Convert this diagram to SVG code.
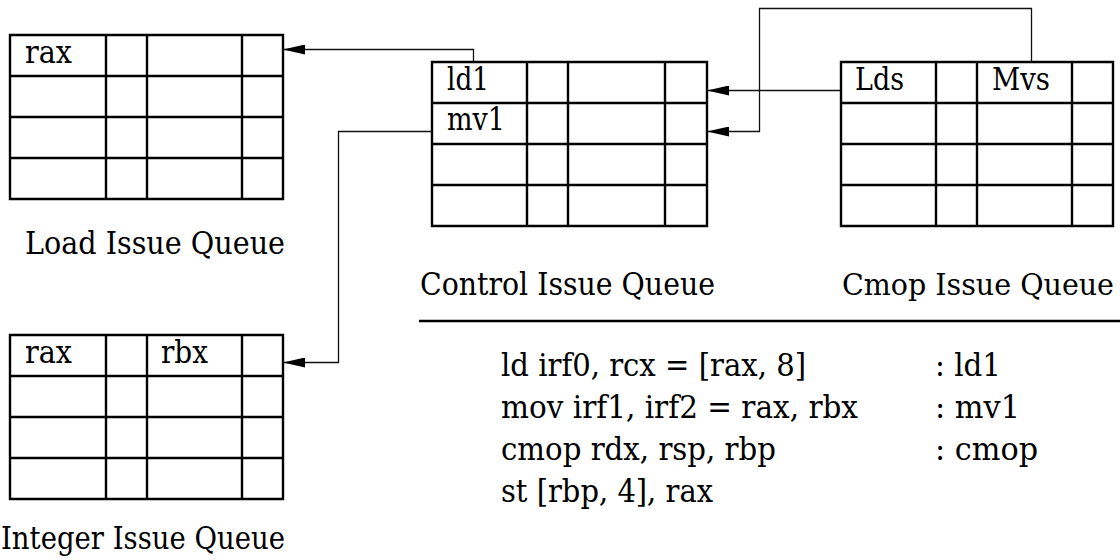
<svg xmlns="http://www.w3.org/2000/svg" width="1120" height="560" viewBox="0 0 1120 560">
<style>
  .grid { fill: none; stroke: #000; stroke-width: 2.4; }
  .conn { fill: none; stroke: #111; stroke-width: 1.3; }
  .t { font-family: 'DejaVu Serif', 'Liberation Serif', serif; font-size: 32px; fill: #000; }
</style>
<defs>
  <marker id="arr" markerUnits="userSpaceOnUse" markerWidth="22" markerHeight="10" viewBox="0 0 22 10" refX="22" refY="5" orient="auto">
    <path d="M0,0 L22,5 L0,10 z" fill="#000"/>
  </marker>
</defs>
<rect width="1120" height="560" fill="#fff"/>

<g id="load-queue">
  <path class="grid" d="M10,35 H283 V199 H10 Z M10,76 H283 M10,117 H283 M10,158 H283 M106,35 V199 M147,35 V199 M242,35 V199"/>
  <text class="t" x="25" y="63" textLength="47" lengthAdjust="spacingAndGlyphs">rax</text>
  <text class="t" x="25" y="254" textLength="260" lengthAdjust="spacingAndGlyphs">Load Issue Queue</text>
</g>

<g id="integer-queue">
  <path class="grid" d="M10,335 H283 V499 H10 Z M10,376 H283 M10,417 H283 M10,458 H283 M106,335 V499 M147,335 V499 M242,335 V499"/>
  <text class="t" x="25" y="363" textLength="47" lengthAdjust="spacingAndGlyphs">rax</text>
  <text class="t" x="161" y="363" textLength="47" lengthAdjust="spacingAndGlyphs">rbx</text>
  <text class="t" x="1" y="549" textLength="284" lengthAdjust="spacingAndGlyphs">Integer Issue Queue</text>
</g>

<g id="control-queue">
  <path class="grid" d="M432,62 H707 V226 H432 Z M432,103 H707 M432,144 H707 M432,185 H707 M527,62 V226 M568,62 V226 M665,62 V226"/>
  <text class="t" x="447" y="90" textLength="42" lengthAdjust="spacingAndGlyphs">ld1</text>
  <text class="t" x="447" y="130" textLength="58" lengthAdjust="spacingAndGlyphs">mv1</text>
  <text class="t" x="420" y="295" textLength="295" lengthAdjust="spacingAndGlyphs">Control Issue Queue</text>
</g>

<g id="cmop-queue">
  <path class="grid" d="M841,62 H1113 V226 H841 Z M841,103 H1113 M841,144 H1113 M841,185 H1113 M936,62 V226 M977,62 V226 M1072,62 V226"/>
  <text class="t" x="855" y="90" textLength="49" lengthAdjust="spacingAndGlyphs">Lds</text>
  <text class="t" x="992" y="90" textLength="58" lengthAdjust="spacingAndGlyphs">Mvs</text>
  <text class="t" style="font-size:29px" x="842" y="295" textLength="272" lengthAdjust="spacingAndGlyphs">Cmop Issue Queue</text>
</g>

<g id="code">
  <line x1="419" y1="321" x2="1120" y2="321" stroke="#000" stroke-width="2.4"/>
  <text class="t" x="501" y="376" textLength="305" lengthAdjust="spacingAndGlyphs">ld irf0, rcx = [rax, 8]</text>
  <text class="t" x="501" y="418" textLength="357" lengthAdjust="spacingAndGlyphs">mov irf1, irf2 = rax, rbx</text>
  <text class="t" x="501" y="460" textLength="275" lengthAdjust="spacingAndGlyphs">cmop rdx, rsp, rbp</text>
  <text class="t" x="501" y="502" textLength="212" lengthAdjust="spacingAndGlyphs">st [rbp, 4], rax</text>
  <text class="t" x="935" y="376" textLength="66" lengthAdjust="spacingAndGlyphs">: ld1</text>
  <text class="t" x="935" y="418" textLength="85" lengthAdjust="spacingAndGlyphs">: mv1</text>
  <text class="t" x="935" y="460" textLength="103" lengthAdjust="spacingAndGlyphs">: cmop</text>
</g>

<g id="connectors">
  <path class="conn" d="M473.5,62 V49.5 H283" marker-end="url(#arr)"/>
  <path class="conn" d="M432,131.5 H338.5 V362.5 H283" marker-end="url(#arr)"/>
  <path class="conn" d="M841,90.5 H707" marker-end="url(#arr)"/>
  <path class="conn" d="M1031.5,62 V8.5 H759.5 V131.5 H707" marker-end="url(#arr)"/>
</g>
</svg>
